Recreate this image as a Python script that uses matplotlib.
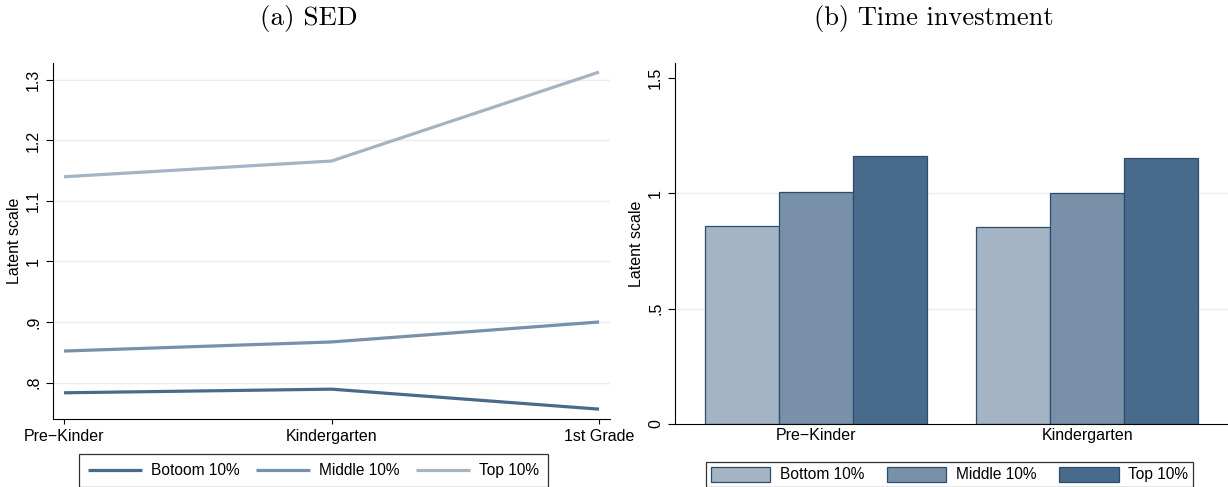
import matplotlib
matplotlib.use("Agg")
import matplotlib.pyplot as plt
import numpy as np

plt.rcParams['font.family'] = ['Liberation Sans', 'DejaVu Sans']

# SED by grade, for each group
grades = ["Pre\u2212Kinder", "Kindergarten", "1st Grade"]
sed_bottom = [0.783, 0.789, 0.756]
sed_middle = [0.852, 0.867, 0.900]
sed_top = [1.140, 1.166, 1.313]
sed_labels = ["Botoom 10%", "Middle 10%", "Top 10%"]

# time investment by grade, for each group
inv_grades = ["Pre\u2212Kinder", "Kindergarten"]
inv_bottom = [0.858, 0.855]
inv_middle = [1.006, 1.003]
inv_top = [1.162, 1.153]
inv_labels = ["Bottom 10%", "Middle 10%", "Top 10%"]

dark = "#486b8c"
mid = "#7890a8"
light = "#a4b4c4"
edge = "#2c4c70"
grid_c = "#e6edf0"
fs = 11.5

fig = plt.figure(figsize=(12.28, 4.87), dpi=100)

# (a) SED
ax1 = fig.add_axes([53 / 1228, 68 / 487, 557 / 1228, 356 / 487])
x = np.arange(len(grades))
l1, = ax1.plot(x, sed_bottom, color=dark, lw=2.3, solid_capstyle='butt')
l2, = ax1.plot(x, sed_middle, color=mid, lw=2.3, solid_capstyle='butt')
l3, = ax1.plot(x, sed_top, color=light, lw=2.3, solid_capstyle='butt')
ax1.set_xlim(-0.041, 2.041)
ax1.set_ylim(0.7397, 1.328)
yt = [0.8, 0.9, 1.0, 1.1, 1.2, 1.3]
ax1.set_yticks(yt)
ax1.set_yticklabels([".8", ".9", "1", "1.1", "1.2", "1.3"], rotation=90, va='center')
ax1.set_xticks(x)
ax1.set_xticklabels(grades)
for v in yt:
    ax1.axhline(v, color=grid_c, lw=1, zorder=0)
ax1.set_ylabel("Latent scale", fontsize=fs, labelpad=3)

# (b) Time investment
ax2 = fig.add_axes([675 / 1228, 63 / 487, 553 / 1228, 361 / 487])
gx = np.arange(len(inv_grades))
w = 0.273
cols = [light, mid, dark]
bars = []
for k, vals in enumerate([inv_bottom, inv_middle, inv_top]):
    b = ax2.bar(gx + (k - 1) * w, vals, width=w, color=cols[k],
                edgecolor=edge, linewidth=0.9, zorder=2)
    bars.append(b)
ax2.set_xlim(-0.522, 1.52)
ax2.set_ylim(0, 1.565)
ax2.set_yticks([0, 0.5, 1.0, 1.5])
ax2.set_yticklabels(["0", ".5", "1", "1.5"], rotation=90, va='center')
ax2.set_xticks(gx)
ax2.set_xticklabels(inv_grades)
ax2.tick_params(axis='x', length=0, pad=3)
for v in [0.5, 1.0]:
    ax2.axhline(v, color=grid_c, lw=1, zorder=0)
ax2.set_ylabel("Latent scale", fontsize=fs, labelpad=3)

for ax in (ax1, ax2):
    ax.spines['top'].set_visible(False)
    ax.spines['right'].set_visible(False)
    ax.spines['left'].set_linewidth(0.8)
    ax.spines['bottom'].set_linewidth(0.8)
    ax.tick_params(axis='both', labelsize=fs, width=0.8)
    ax.tick_params(axis='y', length=5)

# panel captions
fig.text(309 / 1228, 1 - 18 / 487, "(a) SED", family='cmr10', fontsize=19.5,
         ha='center', va='center')
fig.text(934 / 1228, 1 - 18 / 487, "(b) Time investment", family='cmr10',
         fontsize=19, ha='center', va='center')

leg1 = fig.legend([l1, l2, l3], sed_labels, loc='center', ncol=3,
                  bbox_to_anchor=(313.5 / 1228, 1 - 470.5 / 487),
                  fontsize=11.2, frameon=True, fancybox=False, edgecolor='black',
                  handlelength=3.5, handletextpad=0.6, columnspacing=1.0,
                  borderpad=0.55, borderaxespad=0)
leg1.get_frame().set_linewidth(0.9)
leg2 = fig.legend([b[0] for b in bars], inv_labels, loc='center', ncol=3,
                  bbox_to_anchor=(949.5 / 1228, 1 - 474.5 / 487),
                  fontsize=11.2, frameon=True, fancybox=False, edgecolor='black',
                  handlelength=3.8, handleheight=1.1, handletextpad=0.6,
                  columnspacing=1.5, borderpad=0.3, borderaxespad=0)
leg2.get_frame().set_linewidth(0.9)

fig.savefig("out.png", dpi=100)
